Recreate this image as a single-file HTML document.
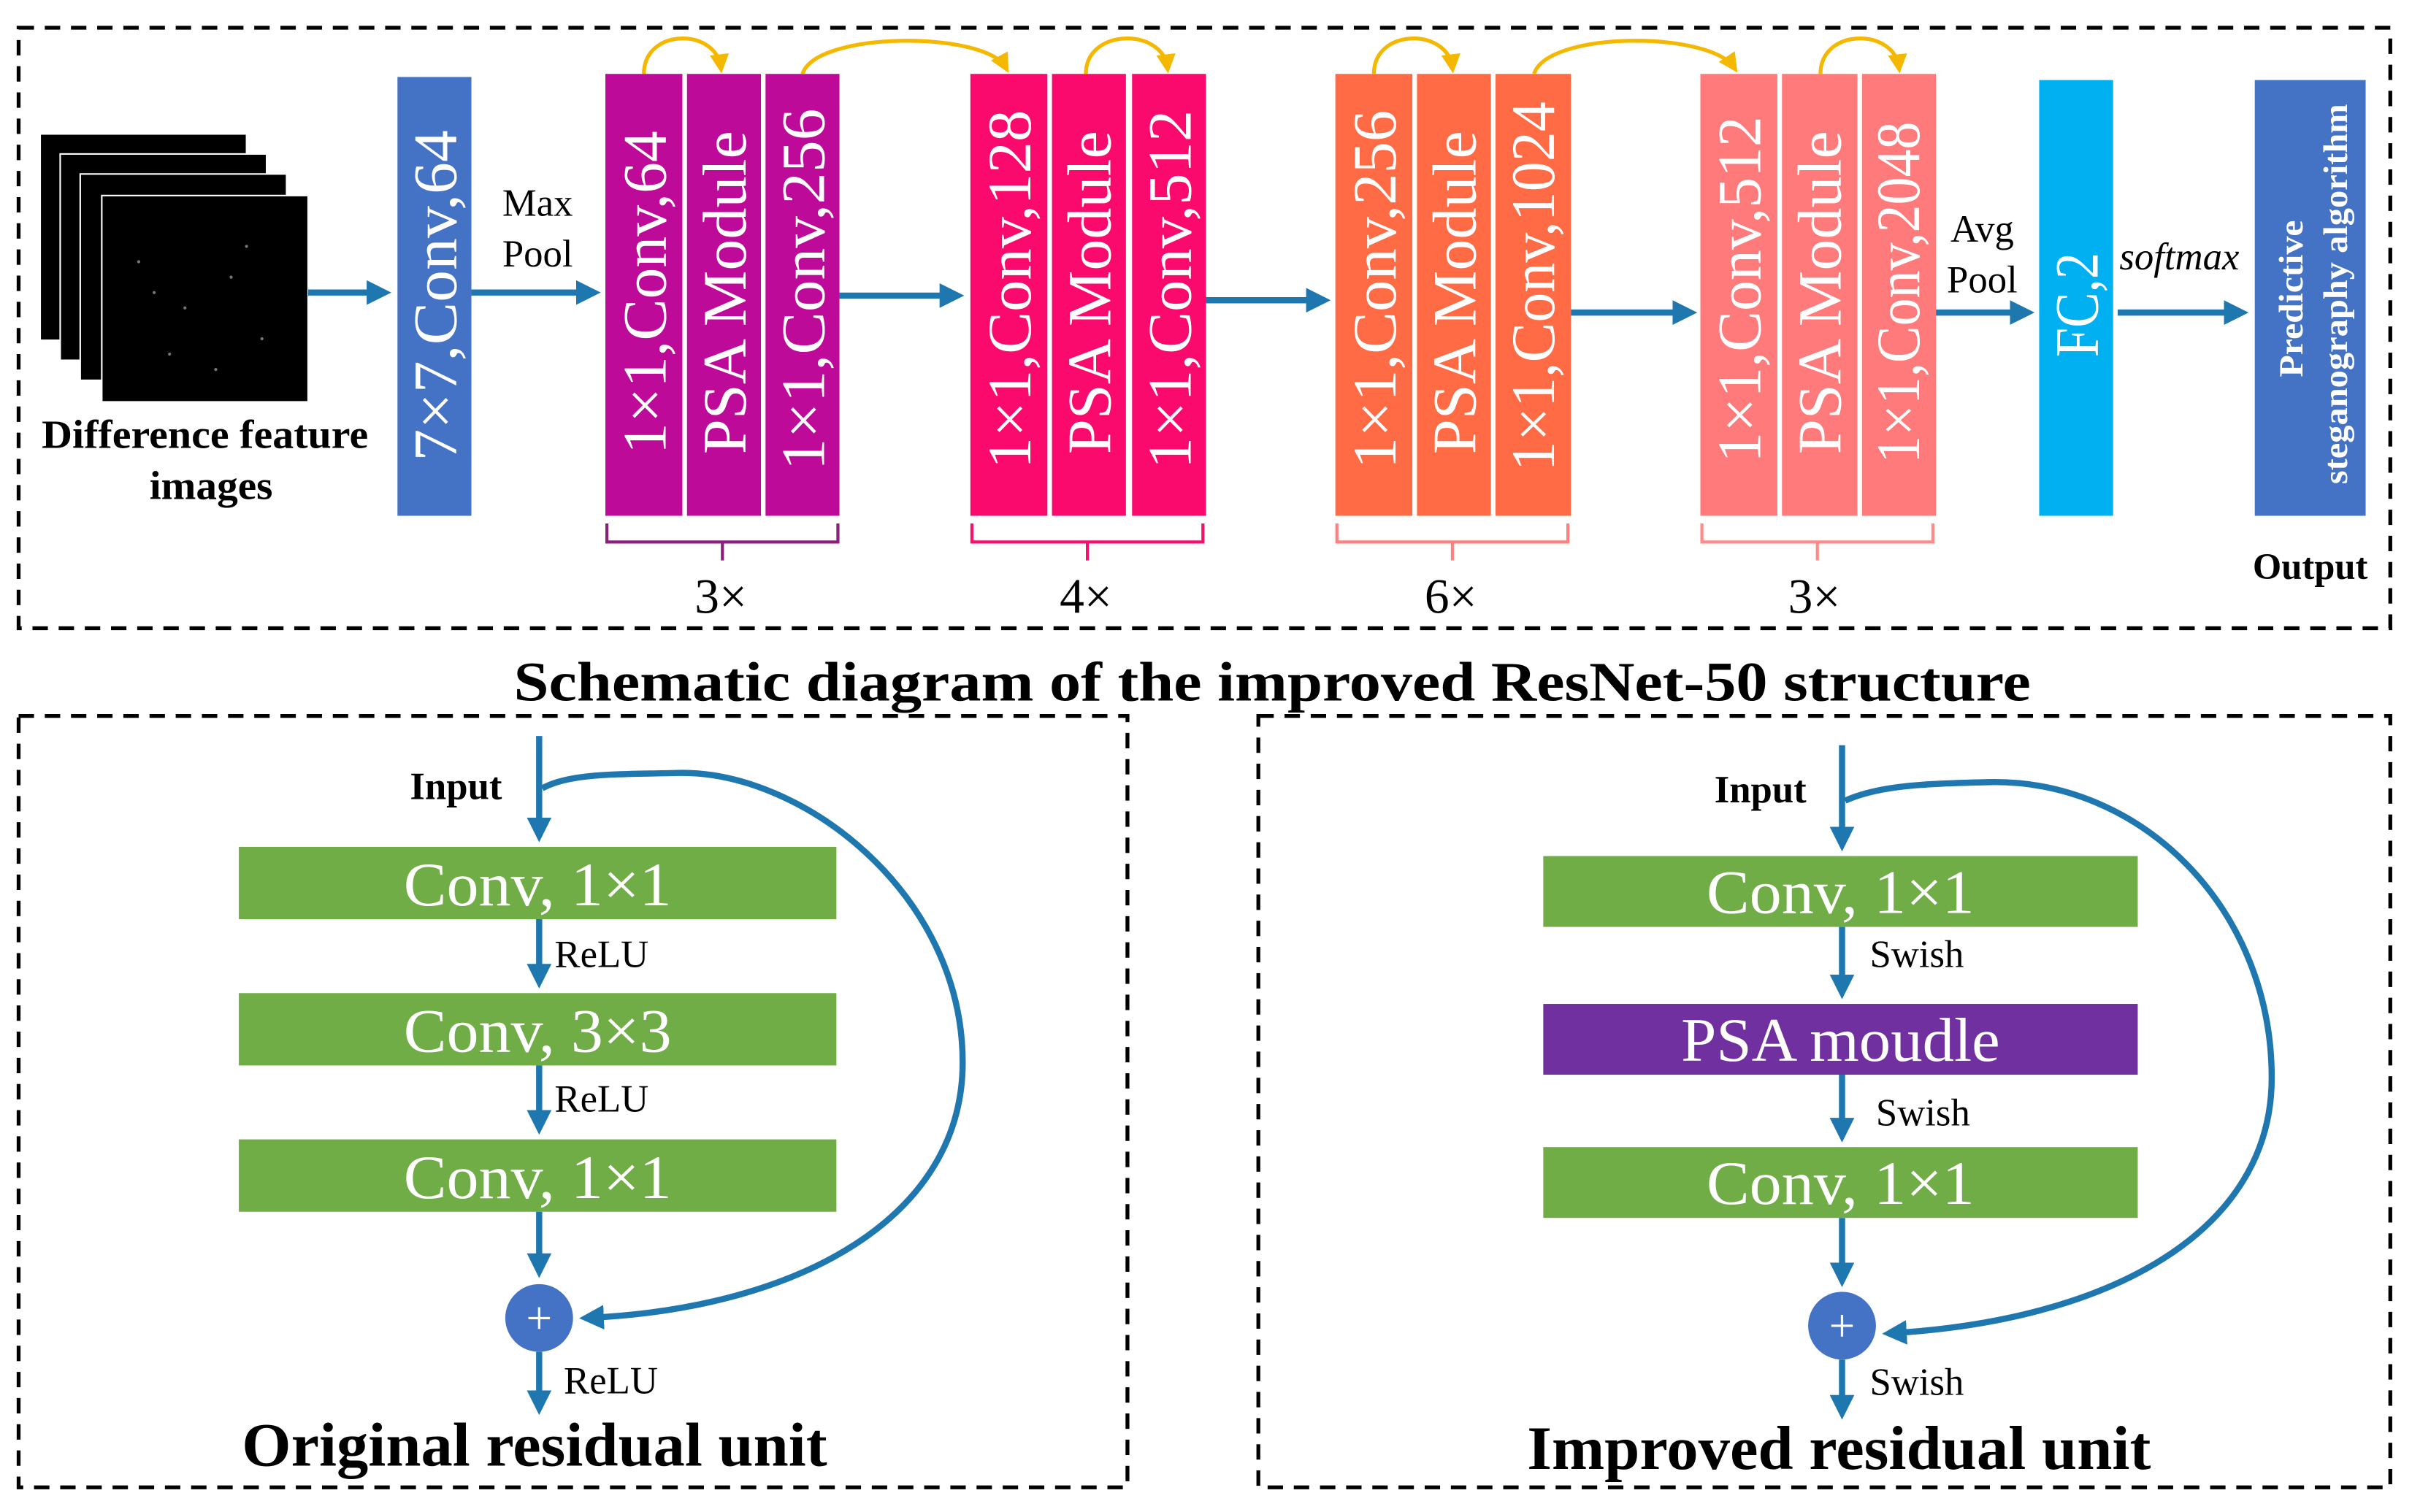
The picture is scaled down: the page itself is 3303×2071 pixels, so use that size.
<!DOCTYPE html>
<html><head><meta charset="utf-8"><style>
html,body{margin:0;padding:0;background:#fff;}
svg{display:block;}
text{font-family:"Liberation Serif","DejaVu Serif",serif;}
</style></head><body>
<svg width="3303" height="2071" viewBox="0 0 1566 982" xmlns="http://www.w3.org/2000/svg">
<defs>
<marker id="ah" markerWidth="4" markerHeight="4" refX="3" refY="2" orient="auto" markerUnits="strokeWidth"><path d="M0,0 L4,2 L0,4 z" fill="#1F77B0"/></marker>
<marker id="oh" markerWidth="5" markerHeight="5" refX="3.5" refY="2.5" orient="auto" markerUnits="strokeWidth"><path d="M0,0 L5,2.5 L0,5 z" fill="#F5B800"/></marker>
</defs>
<g fill="none" stroke="#000" stroke-width="2.5" stroke-dasharray="10,7">
<rect x="12" y="18" width="1540" height="390"/>
<rect x="12" y="465" width="720" height="501"/>
<rect x="817" y="465" width="735" height="501"/>
</g>
<g fill="#000" stroke="#fff" stroke-width="1">
<rect x="26" y="87" width="134" height="134"/>
<rect x="39" y="100" width="134" height="134"/>
<rect x="52" y="113" width="134" height="134"/>
<rect x="66" y="127" width="134" height="134"/>
</g>
<g fill="#777">
<circle cx="90" cy="170" r="1"/><circle cx="120" cy="200" r="1"/><circle cx="150" cy="180" r="1"/><circle cx="110" cy="230" r="1"/><circle cx="170" cy="220" r="1"/><circle cx="140" cy="240" r="1"/><circle cx="100" cy="190" r="1"/><circle cx="160" cy="160" r="1"/>
</g>
<g font-size="26" font-weight="bold" text-anchor="middle" lengthAdjust="spacingAndGlyphs">
<text x="133" y="291" textLength="212" lengthAdjust="spacingAndGlyphs">Difference feature</text>
<text x="137" y="324" textLength="80" lengthAdjust="spacingAndGlyphs">images</text>
</g>
<rect x="258" y="50" width="48" height="285" fill="#4472C4"/>
<g fill="#BD0A98"><rect x="393" y="48" width="50" height="287"/><rect x="446" y="48" width="48" height="287"/><rect x="497" y="48" width="48" height="287"/></g>
<g fill="#FA0A6C"><rect x="630" y="48" width="50" height="287"/><rect x="683" y="48" width="48" height="287"/><rect x="735" y="48" width="48" height="287"/></g>
<g fill="#FF6B45"><rect x="867" y="48" width="50" height="287"/><rect x="920" y="48" width="48" height="287"/><rect x="971" y="48" width="49" height="287"/></g>
<g fill="#FF7B7B"><rect x="1104" y="48" width="50" height="287"/><rect x="1157" y="48" width="49" height="287"/><rect x="1209" y="48" width="48" height="287"/></g>
<rect x="1324" y="52" width="48" height="283" fill="#00B0F0"/>
<rect x="1464" y="52" width="72" height="283" fill="#4472C4"/>
<g fill="#fff" font-size="40" text-anchor="middle">
<text transform="translate(296,192) rotate(-90)" textLength="215" lengthAdjust="spacingAndGlyphs">7×7,Conv,64</text>
<text transform="translate(432,190) rotate(-90)" textLength="210" lengthAdjust="spacingAndGlyphs">1×1,Conv,64</text>
<text transform="translate(484,190) rotate(-90)" textLength="210" lengthAdjust="spacingAndGlyphs">PSA Module</text>
<text transform="translate(535,188) rotate(-90)" textLength="235" lengthAdjust="spacingAndGlyphs">1×1,Conv,256</text>
<text transform="translate(669,188) rotate(-90)" textLength="233" lengthAdjust="spacingAndGlyphs">1×1,Conv,128</text>
<text transform="translate(721,190) rotate(-90)" textLength="210" lengthAdjust="spacingAndGlyphs">PSA Module</text>
<text transform="translate(773,188) rotate(-90)" textLength="233" lengthAdjust="spacingAndGlyphs">1×1,Conv,512</text>
<text transform="translate(906,188) rotate(-90)" textLength="233" lengthAdjust="spacingAndGlyphs">1×1,Conv,256</text>
<text transform="translate(958,190) rotate(-90)" textLength="210" lengthAdjust="spacingAndGlyphs">PSA Module</text>
<text transform="translate(1009,186) rotate(-90)" textLength="240" lengthAdjust="spacingAndGlyphs">1×1,Conv,1024</text>
<text transform="translate(1143,188) rotate(-90)" textLength="225" lengthAdjust="spacingAndGlyphs">1×1,Conv,512</text>
<text transform="translate(1195,190) rotate(-90)" textLength="210" lengthAdjust="spacingAndGlyphs">PSA Module</text>
<text transform="translate(1246,190) rotate(-90)" textLength="222" lengthAdjust="spacingAndGlyphs">1×1,Conv,2048</text>
<text transform="translate(1362,198) rotate(-90)" textLength="68" lengthAdjust="spacingAndGlyphs">FC,2</text>
</g>
<g fill="#fff" font-size="22" font-weight="bold" text-anchor="middle">
<text transform="translate(1495,194) rotate(-90)" textLength="102" lengthAdjust="spacingAndGlyphs">Predictive</text>
<text transform="translate(1524,191) rotate(-90)" textLength="247" lengthAdjust="spacingAndGlyphs">steganography algorithm</text>
</g>
<g fill="none" stroke="#F5B800" stroke-width="2.5" marker-end="url(#oh)">
<path d="M418,48 C418,18 465,18 468,44"/>
<path d="M521,48 C530,20 640,20 653,44"/>
<path d="M705,48 C705,18 755,18 758,44"/>
<path d="M892,48 C892,18 940,18 943,44"/>
<path d="M996,48 C1005,20 1110,20 1126,44"/>
<path d="M1182,48 C1182,18 1230,18 1233,44"/>
</g>
<g stroke="#1F77B0" stroke-width="4" marker-end="url(#ah)">
<line x1="200" y1="190" x2="250" y2="190"/>
<line x1="306" y1="190" x2="386" y2="190"/>
<line x1="545" y1="192" x2="622" y2="192"/>
<line x1="783" y1="195" x2="860" y2="195"/>
<line x1="1020" y1="203" x2="1098" y2="203"/>
<line x1="1257" y1="203" x2="1317" y2="203"/>
<line x1="1375" y1="203" x2="1456" y2="203"/>
</g>
<g font-size="25" fill="#000">
<text x="349" y="140" text-anchor="middle">Max</text>
<text x="349" y="173" text-anchor="middle">Pool</text>
<text x="1287" y="157" text-anchor="middle">Avg</text>
<text x="1287" y="190" text-anchor="middle">Pool</text>
<text x="1415" y="175" text-anchor="middle" font-style="italic">softmax</text>
</g>
<text x="1500" y="376" font-size="24" font-weight="bold" text-anchor="middle">Output</text>
<g fill="none" stroke-width="2">
<path d="M394,340 v12 h150 v-12 M469,352 v12" stroke="#8B1F7E"/>
<path d="M631,340 v12 h150 v-12 M706,352 v12" stroke="#F5106E"/>
<path d="M868,340 v12 h150 v-12 M943,352 v12" stroke="#FF8080"/>
<path d="M1105,340 v12 h150 v-12 M1180,352 v12" stroke="#FF8A8A"/>
</g>
<g font-size="32" text-anchor="middle">
<text x="468" y="398">3×</text><text x="705" y="398">4×</text><text x="942" y="398">6×</text><text x="1178" y="398">3×</text>
</g>
<text x="826" y="455" font-size="36" font-weight="bold" text-anchor="middle" textLength="985" lengthAdjust="spacingAndGlyphs">Schematic diagram of the improved ResNet-50 structure</text>
<g fill="#70AD47"><rect x="155" y="550" width="388" height="47"/><rect x="155" y="645" width="388" height="47"/><rect x="155" y="740" width="388" height="47"/></g>
<g fill="#fff" font-size="40" text-anchor="middle">
<text x="349" y="588" textLength="174" lengthAdjust="spacingAndGlyphs">Conv, 1×1</text><text x="349" y="683" textLength="174" lengthAdjust="spacingAndGlyphs">Conv, 3×3</text><text x="349" y="778" textLength="174" lengthAdjust="spacingAndGlyphs">Conv, 1×1</text>
</g>
<g stroke="#1F77B0" stroke-width="4" marker-end="url(#ah)" fill="none">
<line x1="350" y1="478" x2="350" y2="543"/>
<line x1="350" y1="597" x2="350" y2="638"/>
<line x1="350" y1="692" x2="350" y2="733"/>
<line x1="350" y1="787" x2="350" y2="826"/>
<line x1="350" y1="878" x2="350" y2="915"/>
<path d="M352,512 C370,502 400,503 440,502 C520,500 625,580 625,690 C625,790 520,850 380,856"/>
</g>
<circle cx="350" cy="856" r="22" fill="#4472C4"/>
<text x="350" y="866" font-size="30" fill="#fff" text-anchor="middle">+</text>
<text x="296" y="519" font-size="25" font-weight="bold" text-anchor="middle">Input</text>
<g font-size="25"><text x="360" y="628">ReLU</text><text x="360" y="722">ReLU</text><text x="366" y="905">ReLU</text></g>
<text x="347" y="952" font-size="40" font-weight="bold" text-anchor="middle" textLength="380" lengthAdjust="spacingAndGlyphs">Original residual unit</text>
<g><rect x="1002" y="556" width="386" height="46" fill="#70AD47"/><rect x="1002" y="652" width="386" height="46" fill="#7030A0"/><rect x="1002" y="745" width="386" height="46" fill="#70AD47"/></g>
<g fill="#fff" font-size="40" text-anchor="middle">
<text x="1195" y="593" textLength="174" lengthAdjust="spacingAndGlyphs">Conv, 1×1</text><text x="1195" y="689" textLength="207" lengthAdjust="spacingAndGlyphs">PSA moudle</text><text x="1195" y="782" textLength="174" lengthAdjust="spacingAndGlyphs">Conv, 1×1</text>
</g>
<g stroke="#1F77B0" stroke-width="4" marker-end="url(#ah)" fill="none">
<line x1="1196" y1="484" x2="1196" y2="549"/>
<line x1="1196" y1="602" x2="1196" y2="645"/>
<line x1="1196" y1="698" x2="1196" y2="738"/>
<line x1="1196" y1="791" x2="1196" y2="832"/>
<line x1="1196" y1="883" x2="1196" y2="918"/>
<path d="M1198,520 C1220,510 1250,509 1290,508 C1390,505 1475,590 1475,700 C1475,800 1370,858 1226,866"/>
</g>
<circle cx="1196" cy="861" r="22" fill="#4472C4"/>
<text x="1196" y="871" font-size="30" fill="#fff" text-anchor="middle">+</text>
<text x="1143" y="521" font-size="25" font-weight="bold" text-anchor="middle">Input</text>
<g font-size="25"><text x="1214" y="628">Swish</text><text x="1218" y="731">Swish</text><text x="1214" y="906">Swish</text></g>
<text x="1194" y="954" font-size="40" font-weight="bold" text-anchor="middle" textLength="405" lengthAdjust="spacingAndGlyphs">Improved residual unit</text>
</svg>
</body></html>
